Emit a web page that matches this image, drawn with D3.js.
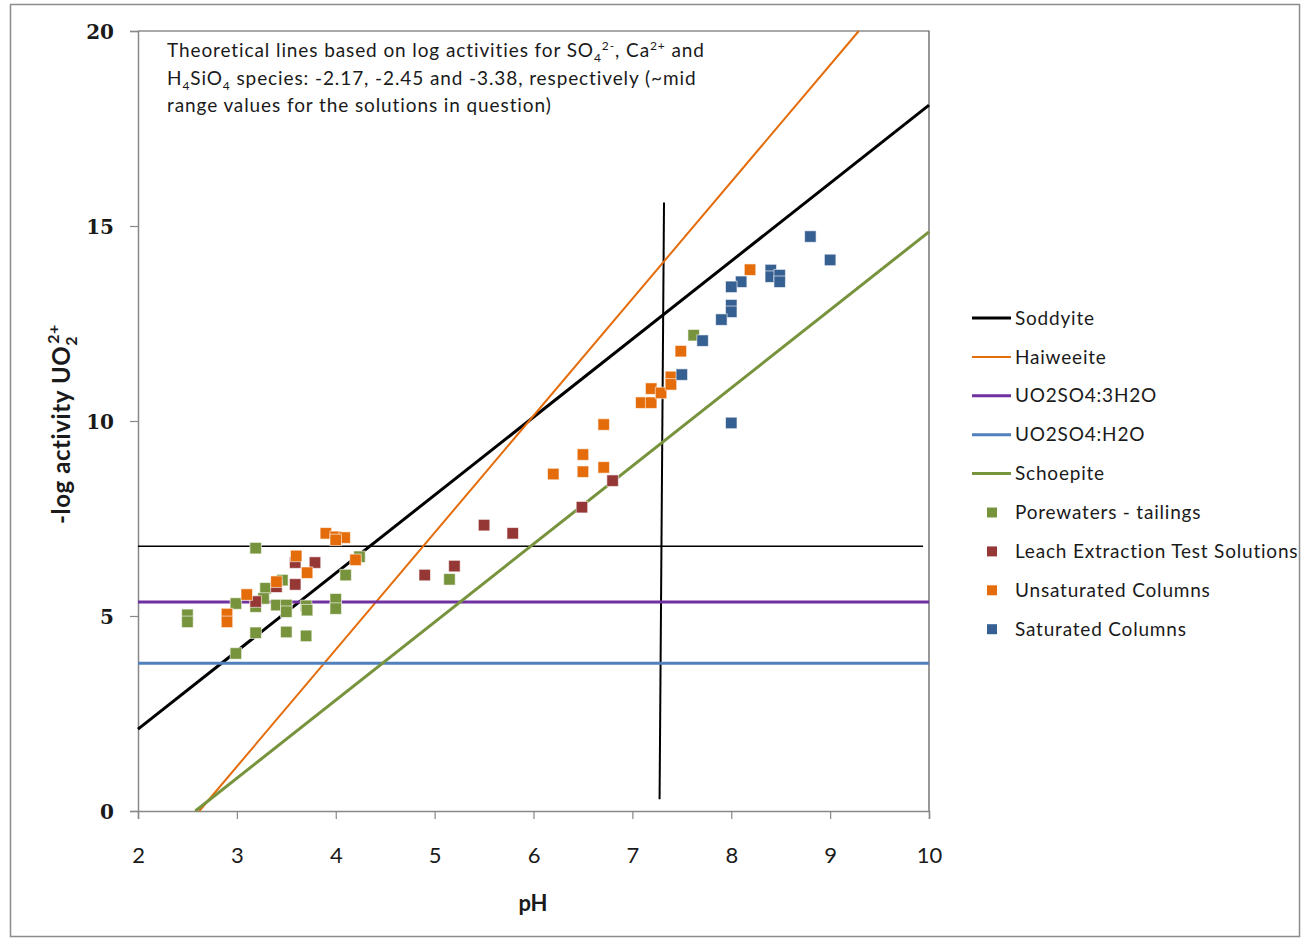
<!DOCTYPE html>
<html lang="en">
<head>
<meta charset="utf-8">
<title>UO2 activity vs pH</title>
<style>
  body { margin: 0; background: #fff; }
  svg text { font-family: "Lato", "Open Sans", sans-serif; fill: #1a1a1a; }
  .tick-y text { font-family: "DejaVu Serif", serif; }
</style>
<script src="https://cdn.jsdelivr.net/npm/d3@7"></script>
</head>
<body>
<div id="container"></div>
<script>

var width = 1301, height = 939;

// ------ data ------
var xTicks = [2, 3, 4, 5, 6, 7, 8, 9, 10];
var yTicks = [0, 5, 10, 15, 20];

// theoretical lines, [pH, -log a UO2]
var soddyite   = [[2, 2.1], [10, 18.1]];
var haiweeite  = [[2.62, 0], [9.29, 20]];
var uo2so4_3h2o = [[2, 5.36], [10, 5.36]];
var uo2so4_h2o = [[2, 3.79], [10, 3.79]];
var schoepite  = [[2.58, 0], [10, 14.85]];
var refHoriz   = [[2, 6.79], [9.94, 6.79]];
var refVert    = [[7.32, 15.6], [7.275, 0.3]];

var porewaters = [
  [2.5, 5.03], [2.5, 4.85], [3.19, 6.74], [2.99, 5.32], [3.19, 4.57], [2.99, 4.04],
  [3.19, 5.24], [3.29, 5.71], [3.27, 5.45], [3.46, 5.92], [3.40, 5.28], [3.50, 5.28],
  [3.50, 5.11], [3.50, 4.59], [3.70, 5.26], [3.71, 5.15], [3.70, 4.49], [4.0, 5.43],
  [4.0, 5.19], [4.10, 6.05], [4.24, 6.52], [5.15, 5.94], [7.62, 12.2]
];
var leach = [
  [3.19, 5.37], [3.59, 6.37], [3.59, 5.81], [3.79, 6.37], [3.40, 5.75],
  [4.90, 6.05], [5.20, 6.28], [5.50, 7.33], [5.79, 7.12], [6.49, 7.79], [6.80, 8.47]
];
var unsaturated = [
  [2.9, 5.05], [2.9, 4.85], [3.10, 5.55], [3.40, 5.88], [3.60, 6.54], [3.71, 6.11],
  [3.90, 7.12], [4.0, 7.03], [4.09, 7.01], [4.0, 6.95], [4.20, 6.44],
  [6.20, 8.64], [6.50, 9.14], [6.50, 8.70], [6.71, 9.91], [6.71, 8.81],
  [7.09, 10.47], [7.19, 10.47], [7.19, 10.83], [7.29, 10.72], [7.39, 11.13],
  [7.39, 10.94], [7.49, 11.79], [8.19, 13.88]
];
var saturated = [
  [8.80, 14.73], [9.00, 14.13], [8.40, 13.87], [8.40, 13.70], [8.49, 13.74],
  [8.49, 13.57], [8.10, 13.57], [8.00, 13.44], [8.00, 12.97], [8.00, 12.80],
  [7.90, 12.60], [7.71, 12.06], [7.50, 11.19], [8.00, 9.95]
];

var lineSeries = [
  {name: "Soddyite", pts: soddyite, color: "#000000", w: 3},
  {name: "Haiweeite", pts: haiweeite, color: "#E46C0A", w: 2},
  {name: "UO2SO4:3H2O", pts: uo2so4_3h2o, color: "#7030A0", w: 3},
  {name: "UO2SO4:H2O", pts: uo2so4_h2o, color: "#4F81BD", w: 3},
  {name: "Schoepite", pts: schoepite, color: "#77933C", w: 3}
];
var pointSeries = [
  {name: "Porewaters - tailings", pts: porewaters, color: "#77933C"},
  {name: "Leach Extraction Test Solutions", pts: leach, color: "#953735"},
  {name: "Unsaturated Columns", pts: unsaturated, color: "#E46C0A"},
  {name: "Saturated Columns", pts: saturated, color: "#376092"}
];

// ------ chart ------
var svg = d3.select("#container").append("svg")
    .attr("width", width)
    .attr("height", height);

svg.append("rect")
    .attr("x", 10.5).attr("y", 4.5)
    .attr("width", 1289).attr("height", 932)
    .attr("fill", "#fff").attr("stroke", "#8c8c8c").attr("stroke-width", 1.5);

var x = d3.scaleLinear().domain([2, 10]).range([138, 929]);
var y = d3.scaleLinear().domain([0, 20]).range([811, 31]);

// plot frame (top/right)
svg.append("path")
    .attr("d", "M" + x(2) + "," + y(20) + "H" + x(10) + "V" + y(0))
    .attr("fill", "none").attr("stroke", "#555").attr("stroke-width", 1.2);

var xAxis = svg.append("g")
    .attr("transform", "translate(0," + y(0) + ")")
    .call(d3.axisBottom(x).tickValues(xTicks).tickSize(8).tickPadding(28).tickFormat(d3.format("d")));
var yAxis = svg.append("g")
    .attr("class", "tick-y")
    .attr("transform", "translate(" + x(2) + ",0)")
    .call(d3.axisLeft(y).tickValues(yTicks).tickSize(8).tickPadding(16).tickFormat(d3.format("d")));

[xAxis, yAxis].forEach(function(a){
  a.select(".domain").attr("stroke", "#888").attr("stroke-width", 1.5);
  a.selectAll(".tick line").attr("stroke", "#888").attr("stroke-width", 1.2);
  a.selectAll(".tick text").attr("fill", "#1a1a1a");
});
xAxis.selectAll(".tick text").style("font-size", "22px").style("font-family", "Lato, sans-serif");
yAxis.selectAll(".tick text").style("font-size", "20px").style("font-weight", "bold").attr("dy", "0.35em");

var line = d3.line().x(function(d){ return x(d[0]); }).y(function(d){ return y(d[1]); });

// thin black reference lines
svg.append("path").attr("d", line(refHoriz))
    .attr("fill", "none").attr("stroke", "#000").attr("stroke-width", 1.6);
svg.append("path").attr("d", line(refVert))
    .attr("fill", "none").attr("stroke", "#000").attr("stroke-width", 2);

var plot = svg.append("g");
lineSeries.forEach(function(s){
  plot.append("path").attr("d", line(s.pts))
      .attr("fill", "none").attr("stroke", s.color).attr("stroke-width", s.w);
});

var ms = 11.5;
pointSeries.forEach(function(s){
  plot.append("g").selectAll("rect").data(s.pts).enter().append("rect")
      .attr("x", function(d){ return x(d[0]) - ms/2; })
      .attr("y", function(d){ return y(d[1]) - ms/2; })
      .attr("width", ms).attr("height", ms)
      .attr("fill", s.color)
      .attr("stroke", "#fff").attr("stroke-opacity", 0.6).attr("stroke-width", 1);
});

// axis titles
svg.append("text")
    .attr("x", 533).attr("y", 911)
    .attr("text-anchor", "middle")
    .style("font-size", "22px").style("font-weight", "bold")
    .text("pH");

var yt = svg.append("text")
    .attr("transform", "translate(70,424) rotate(-90)")
    .attr("text-anchor", "middle")
    .style("font-size", "24px").style("font-weight", "bold").style("letter-spacing", "0.6px");
yt.append("tspan").text("-log activity UO");
yt.append("tspan").attr("dy", 7).style("font-size", "16px").text("2");
yt.append("tspan").attr("dy", -18).attr("dx", -8).style("font-size", "16px").text("2+");

// annotation
var note = svg.append("text").style("font-size", "19px").style("letter-spacing", "0.9px");
var l1 = note.append("tspan").attr("x", 167).attr("y", 57);
l1.append("tspan").text("Theoretical lines based on log activities for SO");
l1.append("tspan").attr("dy", 5).style("font-size", "12px").text("4");
l1.append("tspan").attr("dy", -12).style("font-size", "12px").text("2-");
l1.append("tspan").attr("dy", 7).text(", Ca");
l1.append("tspan").attr("dy", -7).style("font-size", "12px").text("2+");
l1.append("tspan").attr("dy", 7).text(" and");
var l2 = note.append("tspan").attr("x", 167).attr("y", 85);
l2.append("tspan").text("H");
l2.append("tspan").attr("dy", 5).style("font-size", "12px").text("4");
l2.append("tspan").attr("dy", -5).text("SiO");
l2.append("tspan").attr("dy", 5).style("font-size", "12px").text("4");
l2.append("tspan").attr("dy", -5).text(" species: -2.17, -2.45 and -3.38, respectively (~mid");
note.append("tspan").attr("x", 167).attr("y", 112)
    .text("range values for the solutions in question)");

// legend
var legend = svg.append("g");
var ly0 = 318, lstep = 38.9;
lineSeries.forEach(function(s, i){
  var yy = ly0 + i * lstep;
  legend.append("line").attr("x1", 972).attr("x2", 1011).attr("y1", yy).attr("y2", yy)
      .attr("stroke", s.color).attr("stroke-width", s.w);
  legend.append("text").attr("x", 1015).attr("y", yy).attr("dy", "0.35em")
      .style("font-size", "19px").style("letter-spacing", "0.8px").text(s.name);
});
pointSeries.forEach(function(s, i){
  var yy = ly0 + (i + 5) * lstep;
  legend.append("rect").attr("x", 987).attr("y", yy - 5).attr("width", 10).attr("height", 10)
      .attr("fill", s.color);
  legend.append("text").attr("x", 1015).attr("y", yy).attr("dy", "0.35em")
      .style("font-size", "19px").style("letter-spacing", "0.8px").text(s.name);
});

</script>
</body>
</html>
